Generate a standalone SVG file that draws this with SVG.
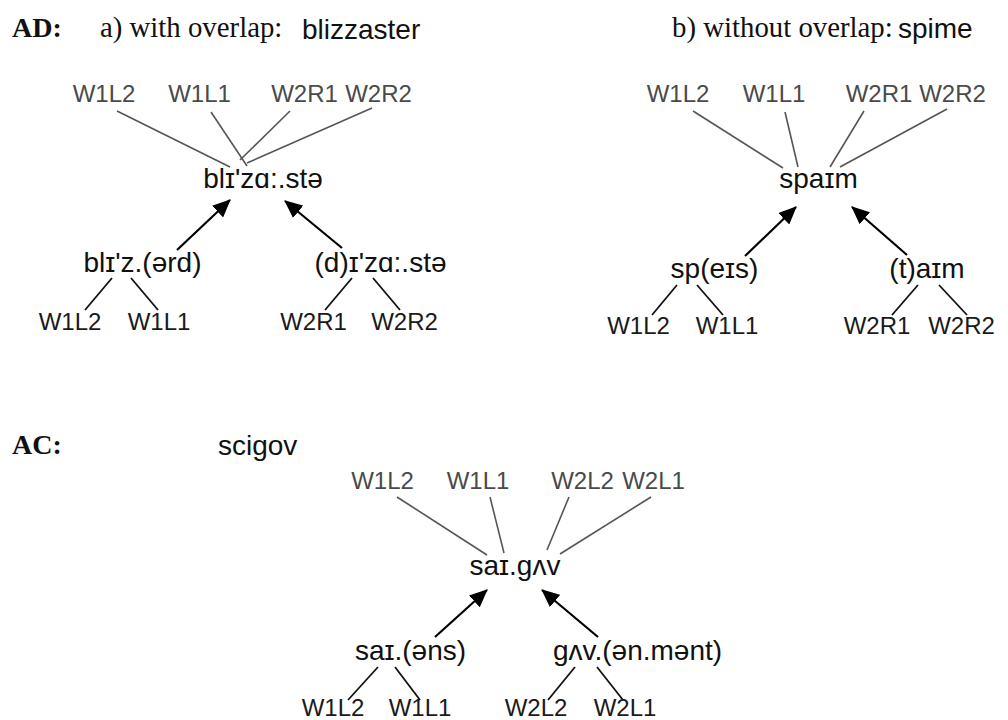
<svg xmlns="http://www.w3.org/2000/svg" width="1008" height="720" viewBox="0 0 1008 720">
<defs>
<style>
.serif{font-family:"Liberation Serif","Times New Roman",serif;font-size:28.8px;fill:#111}
.bold{font-weight:bold;font-size:28px}
.sans{font-family:"Liberation Sans","DejaVu Sans",Arial,sans-serif;font-size:28px;fill:#111}
.node{font-family:"Liberation Sans","DejaVu Sans",Arial,sans-serif;font-size:28px;fill:#111;text-anchor:middle}
.lab{font-family:"Liberation Sans",Arial,sans-serif;font-size:24px;fill:#4a4a4a;text-anchor:middle}
.blab{font-family:"Liberation Sans",Arial,sans-serif;font-size:24px;fill:#1a1a1a;text-anchor:middle}
.gl{stroke:#555;stroke-width:1.6;fill:none}
.bl{stroke:#111;stroke-width:1.8;fill:none}
.ar{stroke:#000;stroke-width:2.2;fill:none;marker-end:url(#ah)}
</style>
<marker id="ah" viewBox="0 0 18 16" refX="17" refY="8" markerWidth="18" markerHeight="16" markerUnits="userSpaceOnUse" orient="auto">
<path d="M0,0 L18,8 L0,16 z" fill="#000"/>
</marker>
</defs>
<rect width="1008" height="720" fill="#fff"/>

<g id="titles">
<text class="serif bold" x="12" y="37">AD:</text>
<text class="serif" x="100" y="37">a) with overlap:</text>
<text class="sans" x="302" y="39">blizzaster</text>
<text class="serif" x="672" y="37">b) without overlap:</text>
<text class="sans" x="898" y="38">spime</text>
<text class="serif bold" x="12" y="454">AC:</text>
<text class="sans" x="218" y="455">scigov</text>
</g>

<g id="connectors">
<!-- tree a -->
<line class="gl" x1="117" y1="111" x2="230" y2="167"/>
<line class="gl" x1="211" y1="112" x2="247" y2="166"/>
<line class="gl" x1="290" y1="111" x2="240" y2="160"/>
<line class="gl" x1="372" y1="108" x2="247" y2="163"/>
<line class="ar" x1="177" y1="250" x2="230" y2="200"/>
<line class="ar" x1="342" y1="248" x2="285" y2="201"/>
<line class="bl" x1="112" y1="278" x2="85" y2="310"/>
<line class="bl" x1="131" y1="278" x2="158" y2="310"/>
<line class="bl" x1="352" y1="278" x2="325" y2="310"/>
<line class="bl" x1="373" y1="278" x2="400" y2="310"/>
<!-- tree b -->
<line class="gl" x1="693" y1="111" x2="783" y2="168"/>
<line class="gl" x1="785" y1="112" x2="798" y2="167"/>
<line class="gl" x1="864" y1="111" x2="830" y2="167"/>
<line class="gl" x1="947" y1="109" x2="840" y2="167"/>
<line class="ar" x1="745" y1="256" x2="796" y2="207"/>
<line class="ar" x1="907" y1="255" x2="852" y2="207"/>
<line class="bl" x1="677" y1="285" x2="652" y2="315"/>
<line class="bl" x1="697" y1="285" x2="723" y2="315"/>
<line class="bl" x1="918" y1="285" x2="892" y2="315"/>
<line class="bl" x1="939" y1="285" x2="967" y2="315"/>
<!-- tree AC -->
<line class="gl" x1="397" y1="497" x2="487" y2="555"/>
<line class="gl" x1="490" y1="497" x2="504" y2="553"/>
<line class="gl" x1="569" y1="497" x2="547" y2="550"/>
<line class="gl" x1="651" y1="497" x2="560" y2="554"/>
<line class="ar" x1="435" y1="637" x2="487" y2="590"/>
<line class="ar" x1="598" y1="637" x2="542" y2="590"/>
<line class="bl" x1="378" y1="667" x2="348" y2="700"/>
<line class="bl" x1="395" y1="667" x2="420" y2="700"/>
<line class="bl" x1="575" y1="667" x2="548" y2="700"/>
<line class="bl" x1="597" y1="667" x2="623" y2="700"/>
</g>

<!-- tree a nodes -->
<g id="a-top-W1L2"><text class="lab" x="104" y="102">W1L2</text></g>
<g id="a-top-W1L1"><text class="lab" x="199.5" y="102">W1L1</text></g>
<g id="a-top-W2R1"><text class="lab" x="304.5" y="102">W2R1</text></g>
<g id="a-top-W2R2"><text class="lab" x="378.5" y="102">W2R2</text></g>
<g id="a-blend"><text class="node" x="263" y="188">blɪ'zɑ:.stə</text></g>
<g id="a-left"><text class="node" x="142.5" y="272">blɪ'z.(ərd)</text></g>
<g id="a-right"><text class="node" x="380.5" y="272">(d)ɪ'zɑ:.stə</text></g>
<g id="a-bot-W1L2"><text class="blab" x="70" y="330">W1L2</text></g>
<g id="a-bot-W1L1"><text class="blab" x="159" y="330">W1L1</text></g>
<g id="a-bot-W2R1"><text class="blab" x="313.5" y="330">W2R1</text></g>
<g id="a-bot-W2R2"><text class="blab" x="404.5" y="330">W2R2</text></g>

<!-- tree b nodes -->
<g id="b-top-W1L2"><text class="lab" x="678" y="102">W1L2</text></g>
<g id="b-top-W1L1"><text class="lab" x="774" y="102">W1L1</text></g>
<g id="b-top-W2R1"><text class="lab" x="879" y="102">W2R1</text></g>
<g id="b-top-W2R2"><text class="lab" x="952.5" y="102">W2R2</text></g>
<g id="b-blend"><text class="node" x="818.5" y="188">spaɪm</text></g>
<g id="b-left"><text class="node" x="714.5" y="278">sp(eɪs)</text></g>
<g id="b-right"><text class="node" x="927" y="278">(t)aɪm</text></g>
<g id="b-bot-W1L2"><text class="blab" x="638.5" y="334">W1L2</text></g>
<g id="b-bot-W1L1"><text class="blab" x="727" y="334">W1L1</text></g>
<g id="b-bot-W2R1"><text class="blab" x="877" y="334">W2R1</text></g>
<g id="b-bot-W2R2"><text class="blab" x="961.5" y="334">W2R2</text></g>

<!-- tree AC nodes -->
<g id="c-top-W1L2"><text class="lab" x="382.5" y="489">W1L2</text></g>
<g id="c-top-W1L1"><text class="lab" x="478" y="489">W1L1</text></g>
<g id="c-top-W2L2"><text class="lab" x="582.5" y="489">W2L2</text></g>
<g id="c-top-W2L1"><text class="lab" x="653.5" y="489">W2L1</text></g>
<g id="c-blend"><text class="node" x="515" y="575">saɪ.gʌv</text></g>
<g id="c-left"><text class="node" x="410.5" y="660">saɪ.(əns)</text></g>
<g id="c-right"><text class="sans" x="553" y="660">gʌv.(ən.mənt)</text></g>
<g id="c-bot-W1L2"><text class="blab" x="333" y="716">W1L2</text></g>
<g id="c-bot-W1L1"><text class="blab" x="420" y="716">W1L1</text></g>
<g id="c-bot-W2L2"><text class="blab" x="536" y="716">W2L2</text></g>
<g id="c-bot-W2L1"><text class="blab" x="625" y="716">W2L1</text></g>
</svg>
